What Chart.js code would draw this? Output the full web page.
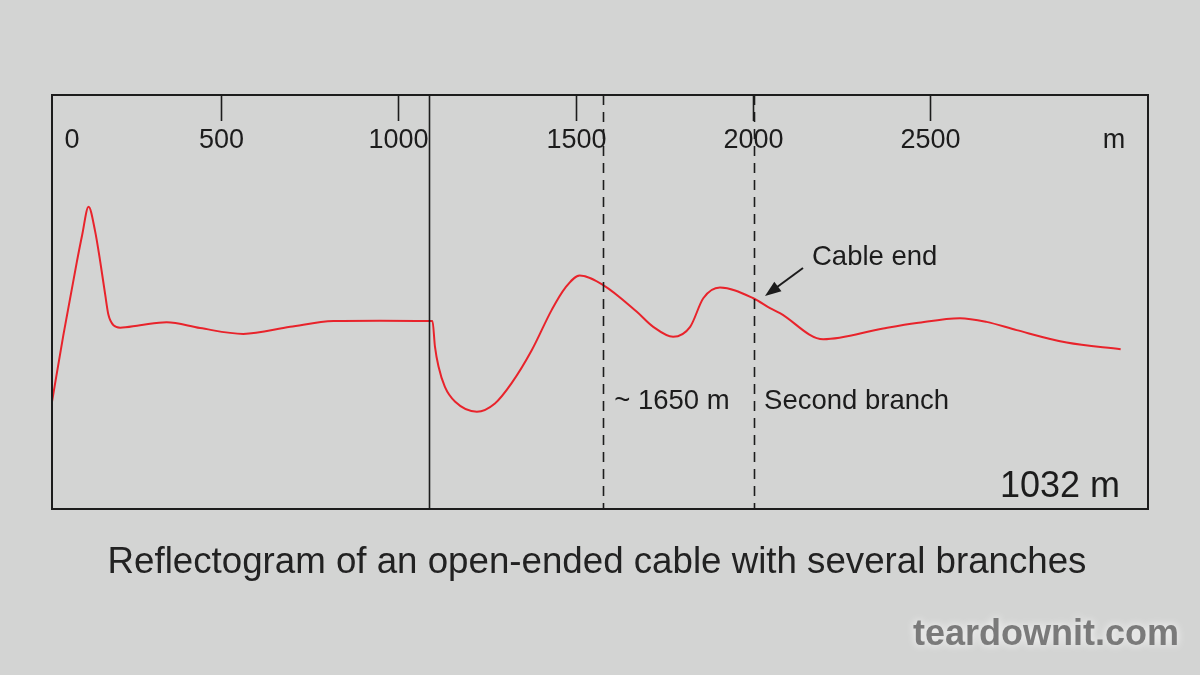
<!DOCTYPE html>
<html>
<head>
<meta charset="utf-8">
<script src="https://cdn.jsdelivr.net/npm/chart.js@4/dist/chart.umd.min.js"></script>
<style>
  html, body { margin: 0; padding: 0; background: #d3d4d3; }
  #wrap { width: 1200px; height: 675px; }
</style>
</head>
<body>
<div id="wrap"><canvas id="chart" width="1200" height="675"></canvas></div>
<script>
// distance along the cable, metres
const distances = [25, 57, 95, 110, 128, 146, 161, 175, 184, 198, 217, 273, 348, 442, 564, 696, 818, 949, 1097,
  1104, 1114, 1132, 1161, 1222, 1273, 1320, 1377, 1433, 1470, 1512, 1578, 1672, 1719, 1775, 1823, 1860, 1907, 2001, 2048, 2076,
  2198, 2367, 2461, 2583, 2658, 2743, 2884, 3036];
// reflected signal level (arbitrary units)
const levels = [25.9, 42.0, 59.7, 66.2, 73.0, 67.3, 59.7, 51.7, 46.9, 44.4, 43.8, 44.4, 45.1, 43.7, 42.3, 44.0, 45.4, 45.5, 45.4,
  39.2, 34.4, 29.5, 25.9, 23.5, 25.5, 30.4, 38.4, 48.1, 53.3, 56.4, 54.1, 47.7, 44.0, 41.6, 44.0, 50.9, 53.5, 50.9, 48.5, 47.3,
  41.0, 43.6, 44.9, 46.1, 45.2, 43.2, 40.2, 38.6];

const tickValues = [500, 1000, 1500, 2000, 2500];
const cursorAt = 1087;            // solid cursor
const markersAt = [1578, 2003];   // dashed markers
const xMin = 25, xMax = 3113;

const ink = "#1c1c1c";
const font = "'Liberation Sans', Arial, Helvetica, sans-serif";

const decor = {
  id: "decor",
  beforeDraw(chart) {
    const { ctx, width, height } = chart;
    ctx.save();
    ctx.fillStyle = "#d3d4d3";
    ctx.fillRect(0, 0, width, height);
    ctx.restore();
  },
  afterDatasetsDraw(chart) {
    const { ctx, chartArea: a, scales: { x } } = chart;
    ctx.save();

    // frame
    ctx.strokeStyle = ink;
    ctx.lineWidth = 2;
    ctx.strokeRect(a.left, a.top, a.right - a.left, a.bottom - a.top);

    // ticks hanging from the top edge
    ctx.lineWidth = 1.6;
    ctx.font = "27px " + font;
    ctx.fillStyle = ink;
    ctx.textAlign = "center";
    ctx.textBaseline = "middle";
    tickValues.forEach((v) => {
      const px = Math.round(x.getPixelForValue(v)) + 0.5;
      ctx.beginPath();
      ctx.moveTo(px, a.top);
      ctx.lineTo(px, a.top + 26);
      ctx.stroke();
      ctx.fillText(String(v), px, a.top + 46);
    });
    ctx.fillText("0", a.left + 20, a.top + 46);
    ctx.fillText("m", a.right - 34, a.top + 46);

    // solid cursor
    const cx = Math.round(x.getPixelForValue(cursorAt)) + 0.5;
    ctx.beginPath();
    ctx.moveTo(cx, a.top);
    ctx.lineTo(cx, a.bottom);
    ctx.stroke();

    // dashed markers
    ctx.setLineDash([10, 7]);
    markersAt.forEach((v) => {
      const px = Math.round(x.getPixelForValue(v)) + 0.5;
      ctx.beginPath();
      ctx.moveTo(px, a.top);
      ctx.lineTo(px, a.bottom);
      ctx.stroke();
    });
    ctx.setLineDash([]);

    // annotations
    ctx.textAlign = "left";
    ctx.font = "27.5px " + font;
    const m1 = x.getPixelForValue(markersAt[0]);
    const m2 = x.getPixelForValue(markersAt[1]);
    ctx.fillText("~ 1650 m", m1 + 11, 401);
    ctx.fillText("Second branch", m2 + 10, 401);
    ctx.fillText("Cable end", 812, 257);

    // arrow to the cable end
    const tipX = 765, tipY = 296, tailX = 803, tailY = 268;
    const ang = Math.atan2(tipY - tailY, tipX - tailX);
    ctx.strokeStyle = ink;
    ctx.lineWidth = 2;
    ctx.beginPath();
    ctx.moveTo(tailX, tailY);
    ctx.lineTo(tipX - 10 * Math.cos(ang), tipY - 10 * Math.sin(ang));
    ctx.stroke();
    ctx.beginPath();
    ctx.moveTo(tipX, tipY);
    ctx.lineTo(tipX - 16 * Math.cos(ang) + 6 * Math.sin(ang), tipY - 16 * Math.sin(ang) - 6 * Math.cos(ang));
    ctx.lineTo(tipX - 16 * Math.cos(ang) - 6 * Math.sin(ang), tipY - 16 * Math.sin(ang) + 6 * Math.cos(ang));
    ctx.closePath();
    ctx.fill();

    // cable length readout
    ctx.textAlign = "right";
    ctx.font = "36px " + font;
    ctx.fillText("1032 m", a.right - 28, a.bottom - 22);

    // caption
    ctx.textAlign = "center";
    ctx.font = "36.7px " + font;
    ctx.fillStyle = "#222";
    ctx.fillText("Reflectogram of an open-ended cable with several branches", 597, 563);

    // watermark
    ctx.font = "bold 36px " + font;
    ctx.shadowColor = "rgba(255,255,255,0.95)";
    ctx.shadowBlur = 8;
    ctx.fillStyle = "#7a7a7a";
    ctx.fillText("teardownit.com", 1046, 635);
    ctx.restore();
  },
};

new Chart(document.getElementById("chart"), {
  type: "line",
  data: {
    datasets: [{
      data: distances.map((d, i) => ({ x: d, y: levels[i] })),
      borderColor: "#e8232b",
      borderWidth: 2,
      pointRadius: 0,
      cubicInterpolationMode: "monotone",
      fill: false,
    }],
  },
  options: {
    responsive: false,
    animation: false,
    layout: { padding: { left: 52, top: 95, right: 52, bottom: 166 } },
    scales: {
      x: { type: "linear", min: xMin, max: xMax, display: false },
      y: { min: 0, max: 100, display: false },
    },
    plugins: { legend: { display: false }, tooltip: { enabled: false } },
  },
  plugins: [decor],
});
</script>
</body>
</html>
